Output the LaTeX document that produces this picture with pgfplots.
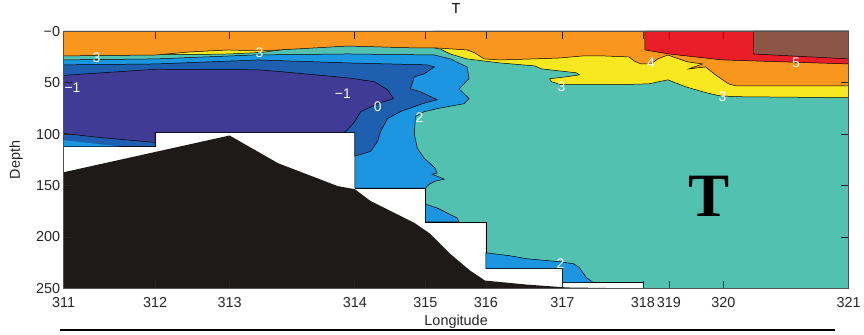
\documentclass[border=0pt]{standalone}
\usepackage{fontspec}
\setmainfont{Liberation Sans}
\newfontfamily\bigserif{Liberation Serif}
\usepackage{pgfplots}
\pgfplotsset{compat=1.18}
\definecolor{corange}{RGB}{248,150,30}
\definecolor{cyellow}{RGB}{248,232,32}
\definecolor{cteal}{RGB}{82,193,176}
\definecolor{cmblue}{RGB}{28,150,224}
\definecolor{cdblue}{RGB}{30,95,175}
\definecolor{cpurple}{RGB}{64,60,150}
\definecolor{cred}{RGB}{234,30,40}
\definecolor{cbrown}{RGB}{140,85,70}
\definecolor{cland}{RGB}{30,26,26}
\definecolor{tickgray}{RGB}{38,38,38}
\begin{document}
\begin{tikzpicture}
\begin{axis}[
  width=790pt, height=259pt, scale only axis,
  xmin=64, xmax=854, ymin=0, ymax=250, y dir=reverse,
  axis on top, clip=false,
  xtick={64,156,231,357,428,489,566,647,673,728,854},
  xticklabels={311,312,313,314,315,316,317,318,319,320,321},
  ytick={0,50,100,150,200,250},
  yticklabels={−0,50,100,150,200,250},
  tick align=inside, major tick length=8pt,
  tick style={color=tickgray, line width=0.6pt},
  axis line style={color=tickgray!80, line width=0.8pt},
  ticklabel style={font=\fontsize{14.5}{14.5}\selectfont, text=tickgray},
  xticklabel style={anchor=base, yshift=-19pt},
  title=T,
  title style={at={(axis description cs:0.5,1.0463)}, anchor=base, font=\fontsize{14.5}{14.5}\selectfont},
  xlabel=Longitude,
  xlabel style={at={(axis description cs:0.5,-0.1429)}, anchor=base, font=\fontsize{14.5}{14.5}\selectfont, text=tickgray},
  ylabel=Depth,
  ylabel style={at={(axis description cs:-0.0557,0.5)}, anchor=base, rotate=0, font=\fontsize{14.5}{14.5}\selectfont, text=tickgray},
  every axis plot/.append style={mark=none, line width=0.5pt, draw=black},
]
% water domain (2-3 range)
\addplot[fill=cteal] coordinates {(64,0) (854,0) (854,250) (647,250) (647,244.2) (566,244.2) (566,230.7) (489,230.7) (489,185.3) (428,185.3) (428,152.5) (357,152.5) (357,98.5) (156,98.5) (156,112.0) (64,112.0)} -- cycle;
% 1-2 range
\addplot[fill=cmblue] coordinates {(64,28.0) (157,27.0) (255,23.2) (350,22.2) (437,23.2) (453,27.0) (470,34.8) (472,46.3) (462,56.0) (472,65.6) (467,70.5) (440,75.3) (427,78.2) (418,83.0) (417,100.4) (420,113.9) (427,123.6) (438,133.2) (440,138.0) (435,139.0) (447,143.8) (438,145.8) (432,148.7) (428,152.5) (357,152.5) (357,98.5) (156,98.5) (156,112.0) (64,112.0)} -- cycle;
\addplot[fill=cmblue] coordinates {(428,168.0) (440,171.8) (460,181.5) (462,185.3) (428,185.3)} -- cycle;
\addplot[fill=cmblue] coordinates {(489,215.3) (513,218.2) (530,221.1) (563,224.0) (577,225.9) (583,229.7) (590,239.4) (597,244.2) (566,244.2) (566,230.7) (489,230.7)} -- cycle;
% 0-1 range
\addplot[fill=cdblue] coordinates {(64,32.8) (157,31.9) (260,28.0) (350,30.9) (430,32.8) (437,34.8) (427,41.5) (417,44.4) (413,56.0) (423,58.9) (440,66.6) (425,70.5) (403,78.2) (390,84.9) (383,97.5) (380,107.1) (373,116.8) (357,121.6) (357,98.5) (156,98.5) (156,112.0) (64,112.0)} -- cycle;
% below 0
\addplot[fill=cpurple] coordinates {(64,43.0) (157,37.0) (260,37.6) (285,39.6) (350,45.4) (377,49.2) (390,57.0) (396,65.6) (380,70.5) (363,78.2) (357,87.8) (350,95.6) (346,98.5) (156,98.5) (156,108.1) (100,103.3) (64,99.4)} -- cycle;
\addplot[fill=cmblue, draw=none] coordinates {(64,106.0) (120,112.0) (64,112.0)} -- cycle;
% 3-4 range
\addplot[fill=cyellow] coordinates {(165,22.5) (200,22.7) (230,22.2) (262,20.8) (285,18.0) (285,10) (165,10)} -- cycle;
\addplot[fill=cyellow] coordinates {(437,16.4) (443,17.4) (453,22.2) (470,27.0) (503,30.9) (538,33.8) (545,36.7) (580,40.5) (583,42.5) (570,44.4) (553,46.3) (555,49.2) (565,52.1) (620,52.1) (653,51.2) (672,47.3) (690,54.1) (707,58.9) (723,62.7) (740,63.7) (854,64.7) (854,0) (437,0)} -- cycle;
% 4-5 range
\addplot[fill=corange] coordinates {(64,24.1) (157,23.2) (190,20.3) (230,18.3) (262,19.3) (350,14.5) (420,16.4) (440,16.4) (470,18.3) (478,21.2) (487,27.0) (503,28.0) (537,27.0) (563,26.1) (587,24.1) (607,24.1) (633,25.1) (638,29.0) (645,31.9) (655,31.9) (662,27.0) (672,23.2) (683,27.0) (692,29.9) (707,31.9) (693,36.7) (710,34.8) (720,42.5) (733,51.2) (740,53.1) (854,53.1) (854,0) (64,0)} -- cycle;
% 5-6 range
\addplot[fill=cred] coordinates {(649,0) (649,18.3) (673,22.2) (727,28.0) (854,31.9) (854,0)} -- cycle;
% above 6
\addplot[fill=cbrown] coordinates {(758,0) (758,22.2) (854,27.0) (854,0)} -- cycle;
% bathymetry
\addplot[fill=cland, draw=none] coordinates {(64,137.1) (231,101.4) (280,128.4) (340,150.6) (357,153.5) (373,165.1) (417,186.3) (433,196.9) (453,216.3) (473,232.6) (488,242.3) (530,246.2) (570,249.0) (647,250) (64,250)} -- cycle;
% contour labels
\begin{scope}[every node/.style={text=white, font=\fontsize{14}{14}\selectfont, inner sep=0pt}]
\node at (axis cs:97,26.1) {3};
\node at (axis cs:261,21.2) {3};
\node at (axis cs:73,55.0) {−1};
\node at (axis cs:345,60.8) {−1};
\node at (axis cs:380,73.4) {0};
\node at (axis cs:422,84.0) {2};
\node at (axis cs:565,54.1) {3};
\node at (axis cs:655,30.9) {4};
\node at (axis cs:801,30.9) {5};
\node at (axis cs:727,63.7) {3};
\node at (axis cs:564,225.9) {2};
\end{scope}
\node[font=\bigserif\bfseries\fontsize{62}{62}\selectfont, text=black] at (axis cs:713,160.2) {T};
\draw[black, line width=2pt] (axis cs:60,290.1) -- (axis cs:840,290.1);
\path (axis cs:0,-28.0) rectangle (axis cs:864,294.4);
\end{axis}
\end{tikzpicture}
\end{document}
